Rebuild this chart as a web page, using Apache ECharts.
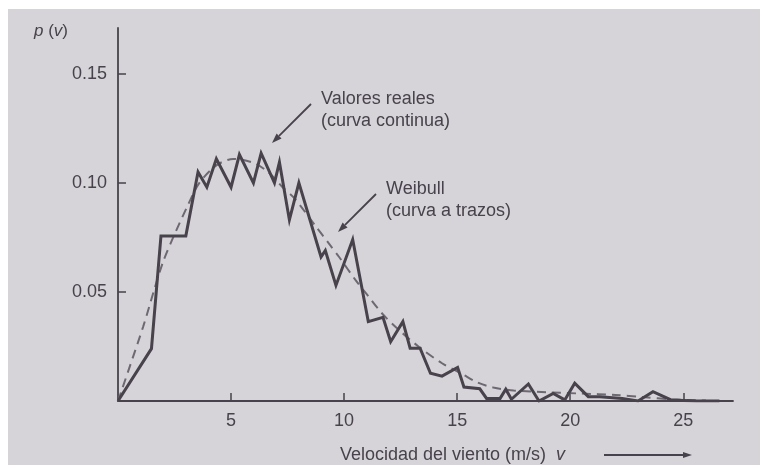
<!DOCTYPE html>
<html>
<head>
<meta charset="utf-8">
<script src="https://cdn.jsdelivr.net/npm/echarts@6/dist/echarts.min.js"></script>
<style>
  html, body { margin: 0; padding: 0; background: #ffffff; }
  #main { width: 760px; height: 467px; }
</style>
</head>
<body>
<div id="main"></div>
<script>
// valores reales (curva continua): [v (m/s), p(v)]
var realV = [0, 1.48, 1.9, 3.0, 3.54, 3.93, 4.35, 5.0, 5.37, 5.99, 6.33, 6.92, 7.14, 7.58, 8.0,
             8.98, 9.17, 9.64, 10.38, 11.07, 11.72, 12.06, 12.6, 12.92, 13.36, 13.82, 14.33,
             15.02, 15.3, 16.0, 16.3, 16.9, 17.15, 17.4, 18.15, 18.62, 19.25, 19.76, 20.2,
             20.8, 21.3, 22.3, 23.0, 23.66, 24.46, 25.6, 26.6];
var realP = [0, 0.024, 0.0757, 0.0757, 0.105, 0.098, 0.111, 0.098, 0.113, 0.100, 0.1136, 0.100, 0.1095, 0.083, 0.100,
             0.066, 0.069, 0.053, 0.074, 0.0364, 0.0384, 0.0272, 0.0364, 0.0242, 0.0242, 0.0127, 0.0114,
             0.0154, 0.0064, 0.0056, 0.0012, 0.0012, 0.0054, 0.0008, 0.0078, 0.0, 0.0035, 0.0005, 0.0082,
             0.002, 0.002, 0.0012, 0.0, 0.0043, 0.0005, 0.0, 0.0];

// Weibull (curva a trazos)
var weibV = [0, 1.11, 1.63, 2.0, 2.44, 3.1, 3.6, 4.35, 5.1, 6.04, 6.7, 7.28, 7.8, 8.75, 9.34, 9.78,
             10.5, 11.0, 11.69, 12.42, 13.3, 14.33, 15.2, 15.9, 16.6, 17.5, 19.0, 20.5, 22.0, 23.2, 24.5, 26.0];
var weibP = [0, 0.034, 0.052, 0.064, 0.075, 0.090, 0.100, 0.108, 0.111, 0.109, 0.1044, 0.098, 0.093, 0.080, 0.072, 0.066,
             0.0555, 0.049, 0.0400, 0.0326, 0.0249, 0.0173, 0.0125, 0.0085, 0.0062, 0.0048, 0.0040, 0.0034, 0.0028, 0.0018, 0.0008, 0.0002];

var xTicks = [5, 10, 15, 20, 25];
var yTicks = [0.05, 0.10, 0.15];

var ink = '#47424b';
var paper = '#d7d4d9';
var fontFam = '"Liberation Sans", Arial, sans-serif';

function pairs(xs, ys) {
    var out = [];
    for (var i = 0; i < xs.length; i++) out.push([xs[i], ys[i]]);
    return out;
}

// flecha: línea + punta rellena
function arrow(x1, y1, x2, y2, len, half) {
    var dx = x2 - x1, dy = y2 - y1;
    var d = Math.sqrt(dx * dx + dy * dy);
    var ux = dx / d, uy = dy / d;
    var bx = x2 - ux * len, by = y2 - uy * len;
    var px = -uy * half, py = ux * half;
    return [
        { type: 'line', silent: true, shape: { x1: x1, y1: y1, x2: bx, y2: by },
          style: { stroke: ink, lineWidth: 1.8 } },
        { type: 'polygon', silent: true,
          shape: { points: [[x2, y2], [bx + px, by + py], [bx - px, by - py]] },
          style: { fill: ink } }
    ];
}

function label(txt, x, y) {
    return { type: 'text', silent: true,
             style: { text: txt, x: x, y: y, font: '18px ' + fontFam, fill: ink,
                      verticalAlign: 'middle', textVerticalAlign: 'middle' } };
}

var myChart = echarts.init(document.getElementById('main'));

var graphics = [
    // bordes blancos del escaneo
    { type: 'rect', silent: true, shape: { x: 0, y: 0, width: 760, height: 9 }, style: { fill: '#ffffff' } },
    { type: 'rect', silent: true, shape: { x: 0, y: 0, width: 8, height: 467 }, style: { fill: '#ffffff' } },
    { type: 'rect', silent: true, shape: { x: 0, y: 465, width: 760, height: 2 }, style: { fill: '#ffffff' } },
    // p (v)
    { type: 'text', silent: true,
      style: { x: 34, y: 31, verticalAlign: 'middle', textVerticalAlign: 'middle',
               text: '{i|p} ({i|v})', font: '17px ' + fontFam, fill: ink,
               rich: { i: { fontStyle: 'italic', fontSize: 17, fontFamily: fontFam, fill: ink, color: ink } } } },
    // título eje x
    { type: 'text', silent: true,
      style: { x: 340, y: 455, verticalAlign: 'middle', textVerticalAlign: 'middle',
               text: 'Velocidad del viento (m/s)  {i|v}', font: '18px ' + fontFam, fill: ink,
               rich: { i: { fontStyle: 'italic', fontSize: 18, fontFamily: fontFam, fill: ink, color: ink } } } },
    label('Valores reales', 321, 99),
    label('(curva continua)', 321, 121),
    label('Weibull', 386, 189),
    label('(curva a trazos)', 386, 211)
];
graphics = graphics.concat(arrow(311, 104, 272, 143, 10, 3.5));
graphics = graphics.concat(arrow(376, 194, 338, 232, 10, 3.5));
graphics = graphics.concat(arrow(604, 455, 692, 455, 9, 3));

var option = {
    backgroundColor: paper,
    animation: false,
    grid: { left: 118, top: 28, right: 27, bottom: 66 },
    xAxis: {
        type: 'value',
        min: 0,
        max: 27.2,
        interval: 5,
        axisLine: { show: true, onZero: false, lineStyle: { color: ink, width: 1.8 } },
        axisTick: { show: true, inside: true, length: 8, customValues: xTicks,
                    lineStyle: { color: ink, width: 1.5 } },
        axisLabel: { customValues: xTicks, margin: 11, color: ink, fontSize: 18, fontFamily: fontFam },
        splitLine: { show: false }
    },
    yAxis: {
        type: 'value',
        min: 0,
        max: 0.171,
        interval: 0.05,
        axisLine: { show: true, onZero: false, lineStyle: { color: ink, width: 1.8 } },
        axisTick: { show: true, inside: true, length: 8, customValues: yTicks,
                    lineStyle: { color: ink, width: 1.5 } },
        axisLabel: { customValues: yTicks, margin: 11, color: ink, fontSize: 18, fontFamily: fontFam,
                     formatter: function (v) { return v.toFixed(2); } },
        splitLine: { show: false }
    },
    series: [
        {
            name: 'Weibull',
            type: 'line',
            data: pairs(weibV, weibP),
            showSymbol: false,
            smooth: 0.3,
            lineStyle: { color: '#6d6872', width: 2, type: [9, 6] },
            z: 2
        },
        {
            name: 'Valores reales',
            type: 'line',
            data: pairs(realV, realP),
            showSymbol: false,
            lineStyle: { color: ink, width: 3, join: 'miter' },
            z: 3
        }
    ],
    graphic: graphics
};

myChart.setOption(option);
</script>
</body>
</html>
